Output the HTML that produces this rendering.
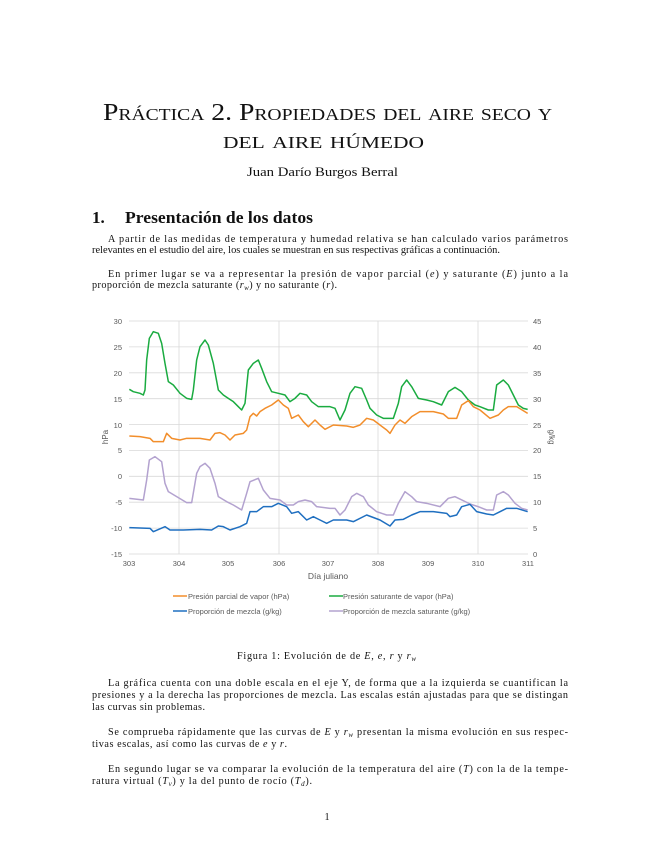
<!DOCTYPE html>
<html><head><meta charset="utf-8"><style>
html,body{margin:0;padding:0;background:#fff}
svg{display:block}
.t{font-family:"Liberation Serif",serif;fill:#111}
.c{font-family:"Liberation Sans",sans-serif;fill:#595959;font-size:7.5px}
</style></head><body>
<svg width="655" height="848" viewBox="0 0 655 848" xmlns="http://www.w3.org/2000/svg">
<g class="t">
<text x="103" y="120" font-size="24" font-variant="small-caps" textLength="449" lengthAdjust="spacingAndGlyphs">Práctica 2. Propiedades del aire seco y</text>
<text x="223" y="148" font-size="24" font-variant="small-caps" textLength="201" lengthAdjust="spacingAndGlyphs">del aire húmedo</text>
<text x="247" y="176" font-size="13" textLength="151" lengthAdjust="spacingAndGlyphs">Juan Darío Burgos Berral</text>
<text x="92" y="223" font-size="17" font-weight="bold">1.</text>
<text x="125" y="223" font-size="17" font-weight="bold" textLength="188" lengthAdjust="spacingAndGlyphs">Presentación de los datos</text>
<text x="108" y="242" font-size="10.2" textLength="460" lengthAdjust="spacing">A partir de las medidas de temperatura y humedad relativa se han calculado varios parámetros</text>
<text x="92" y="253" font-size="10.2" textLength="408" lengthAdjust="spacingAndGlyphs">relevantes en el estudio del aire, los cuales se muestran en sus respectivas gráficas a continuación.</text>
<text x="108" y="277" font-size="10.2" textLength="460" lengthAdjust="spacing">En primer lugar se va a representar la presión de vapor parcial (<tspan font-style="italic">e</tspan>) y saturante (<tspan font-style="italic">E</tspan>) junto a la</text>
<text x="92" y="288" font-size="10.2" textLength="245" lengthAdjust="spacing">proporción de mezcla saturante (<tspan font-style="italic">r<tspan font-size="7" dy="2">w</tspan></tspan><tspan dy="-2">) y no saturante (</tspan><tspan font-style="italic">r</tspan>).</text>
<text x="237" y="659" font-size="10.2" textLength="179" lengthAdjust="spacing">Figura 1: Evolución de de <tspan font-style="italic">E</tspan>, <tspan font-style="italic">e</tspan>, <tspan font-style="italic">r</tspan> y <tspan font-style="italic">r<tspan font-size="7" dy="2">w</tspan></tspan></text>
<text x="108" y="686" font-size="10.2" textLength="460" lengthAdjust="spacing">La gráfica cuenta con una doble escala en el eje Y, de forma que a la izquierda se cuantifican la</text>
<text x="92" y="698" font-size="10.2" textLength="476" lengthAdjust="spacing">presiones y a la derecha las proporciones de mezcla. Las escalas están ajustadas para que se distingan</text>
<text x="92" y="710" font-size="10.2" textLength="113" lengthAdjust="spacing">las curvas sin problemas.</text>
<text x="108" y="735" font-size="10.2" textLength="460" lengthAdjust="spacing">Se comprueba rápidamente que las curvas de <tspan font-style="italic">E</tspan> y <tspan font-style="italic">r<tspan font-size="7" dy="2">w</tspan></tspan><tspan dy="-2"> presentan la misma evolución en sus respec-</tspan></text>
<text x="92" y="747" font-size="10.2" textLength="195" lengthAdjust="spacing">tivas escalas, así como las curvas de <tspan font-style="italic">e</tspan> y <tspan font-style="italic">r</tspan>.</text>
<text x="108" y="772" font-size="10.2" textLength="460" lengthAdjust="spacing">En segundo lugar se va comparar la evolución de la temperatura del aire (<tspan font-style="italic">T</tspan>) con la de la tempe-</text>
<text x="92" y="784" font-size="10.2" textLength="220" lengthAdjust="spacing">ratura virtual (<tspan font-style="italic">T<tspan font-size="7" dy="2">v</tspan></tspan><tspan dy="-2">) y la del punto de rocío (</tspan><tspan font-style="italic">T<tspan font-size="7" dy="2">d</tspan></tspan><tspan dy="-2">).</tspan></text>
<text x="327" y="820" font-size="10.2" text-anchor="middle">1</text>
</g>
<g stroke="#d9d9d9" stroke-width="0.8">
<line x1="129" x2="528" y1="321" y2="321"/><line x1="129" x2="528" y1="346.9" y2="346.9"/>
<line x1="129" x2="528" y1="372.8" y2="372.8"/><line x1="129" x2="528" y1="398.7" y2="398.7"/>
<line x1="129" x2="528" y1="424.6" y2="424.6"/><line x1="129" x2="528" y1="450.5" y2="450.5"/>
<line x1="129" x2="528" y1="476.3" y2="476.3"/><line x1="129" x2="528" y1="502.2" y2="502.2"/>
<line x1="129" x2="528" y1="528.1" y2="528.1"/><line x1="129" x2="528" y1="554" y2="554"/>
<line x1="179" x2="179" y1="321" y2="554"/><line x1="279" x2="279" y1="321" y2="554"/>
<line x1="378" x2="378" y1="321" y2="554"/><line x1="478" x2="478" y1="321" y2="554"/>
</g>
<g class="c">
<g text-anchor="end">
<text x="122" y="324">30</text><text x="122" y="350">25</text><text x="122" y="376">20</text><text x="122" y="402">15</text><text x="122" y="428">10</text><text x="122" y="453">5</text><text x="122" y="479">0</text><text x="122" y="505">-5</text><text x="122" y="531">-10</text><text x="122" y="557">-15</text>
</g>
<g>
<text x="533" y="324">45</text><text x="533" y="350">40</text><text x="533" y="376">35</text><text x="533" y="402">30</text><text x="533" y="428">25</text><text x="533" y="453">20</text><text x="533" y="479">15</text><text x="533" y="505">10</text><text x="533" y="531">5</text><text x="533" y="557">0</text>
</g>
<g text-anchor="middle">
<text x="129" y="566">303</text><text x="179" y="566">304</text><text x="228" y="566">305</text><text x="279" y="566">306</text><text x="328" y="566">307</text><text x="378" y="566">308</text><text x="428" y="566">309</text><text x="478" y="566">310</text><text x="528" y="566">311</text>
<text x="328" y="579" font-size="8.5">Día juliano</text>
<text transform="translate(108,437) rotate(-90)" font-size="8">hPa</text>
<text transform="translate(549,437) rotate(90)" font-size="8">g/kg</text>
</g>
<text x="188" y="599">Presión parcial de vapor (hPa)</text>
<text x="343" y="599">Presión saturante de vapor (hPa)</text>
<text x="188" y="614">Proporción de mezcla (g/kg)</text>
<text x="343" y="614">Proporción de mezcla saturante (g/kg)</text>
</g>
<g stroke-width="1.5"><line x1="173" x2="187" y1="596" y2="596" stroke="#f28e2b"/><line x1="329" x2="343" y1="596" y2="596" stroke="#1aab40"/><line x1="173" x2="187" y1="611" y2="611" stroke="#1f6fc0"/><line x1="329" x2="343" y1="611" y2="611" stroke="#b3a2cf"/></g>
<g transform="translate(100,310) scale(0.33333)" fill="none" stroke-width="4.5" stroke-linejoin="round">
<polyline stroke="#1aab40" points="88,238 100,245 120,250 130,255 135,240 140,150 148,85 160,65 175,70 185,100 195,160 205,215 220,225 240,250 260,265 275,268 280,240 290,150 300,110 315,90 325,105 340,160 355,240 370,255 385,265 400,275 415,290 425,300 435,280 445,180 460,160 475,150 485,175 500,215 515,245 535,250 555,255 570,275 585,265 600,250 620,255 635,275 655,290 690,290 705,295 720,330 735,300 750,250 765,230 785,235 800,270 810,295 830,315 850,325 880,325 895,280 905,230 920,210 935,230 955,265 980,270 1000,275 1025,285 1045,245 1065,232 1085,245 1105,270 1125,285 1140,290 1165,300 1180,300 1190,225 1210,210 1225,225 1240,255 1255,285 1270,295 1283,298"/>
<polyline stroke="#f28e2b" points="88,378 120,380 150,385 160,395 190,395 200,370 215,385 240,390 260,385 300,385 330,390 345,370 360,368 375,375 390,390 405,375 430,370 440,360 450,320 460,310 470,318 480,305 495,295 515,285 535,270 550,285 565,295 575,325 595,315 610,335 625,350 645,330 660,345 675,358 700,345 740,348 760,352 780,345 800,325 820,330 840,345 860,360 870,370 885,345 900,330 915,340 935,320 960,305 1000,305 1030,312 1045,325 1070,325 1085,285 1105,272 1120,290 1140,300 1170,325 1195,315 1210,300 1225,290 1250,290 1283,310"/>
<polyline stroke="#b3a2cf" points="88,565 130,570 140,510 148,450 165,440 185,455 195,520 205,545 230,560 260,578 275,578 290,490 300,470 315,460 330,475 345,520 355,560 380,575 400,585 425,600 440,550 450,515 475,505 490,540 510,565 540,570 560,585 580,585 595,575 615,570 635,575 650,590 690,595 705,595 720,615 735,600 755,560 770,550 790,560 805,585 830,605 860,615 880,615 895,580 915,545 935,560 950,575 980,580 1020,590 1045,565 1065,560 1090,572 1110,582 1135,590 1160,600 1180,600 1190,555 1210,545 1225,555 1245,580 1265,595 1283,600"/>
<polyline stroke="#1f6fc0" points="88,653 150,655 160,665 195,650 210,660 250,660 300,658 335,660 355,648 370,650 390,660 420,650 440,640 450,605 470,605 490,590 515,590 535,580 560,590 575,610 595,605 620,630 640,620 660,630 680,640 700,630 740,630 760,635 800,615 840,630 870,648 885,630 910,628 935,615 960,605 1000,605 1040,610 1050,620 1070,615 1085,590 1110,583 1130,605 1160,612 1180,615 1200,605 1220,595 1250,595 1283,605"/>
</g>
</svg>
</body></html>
